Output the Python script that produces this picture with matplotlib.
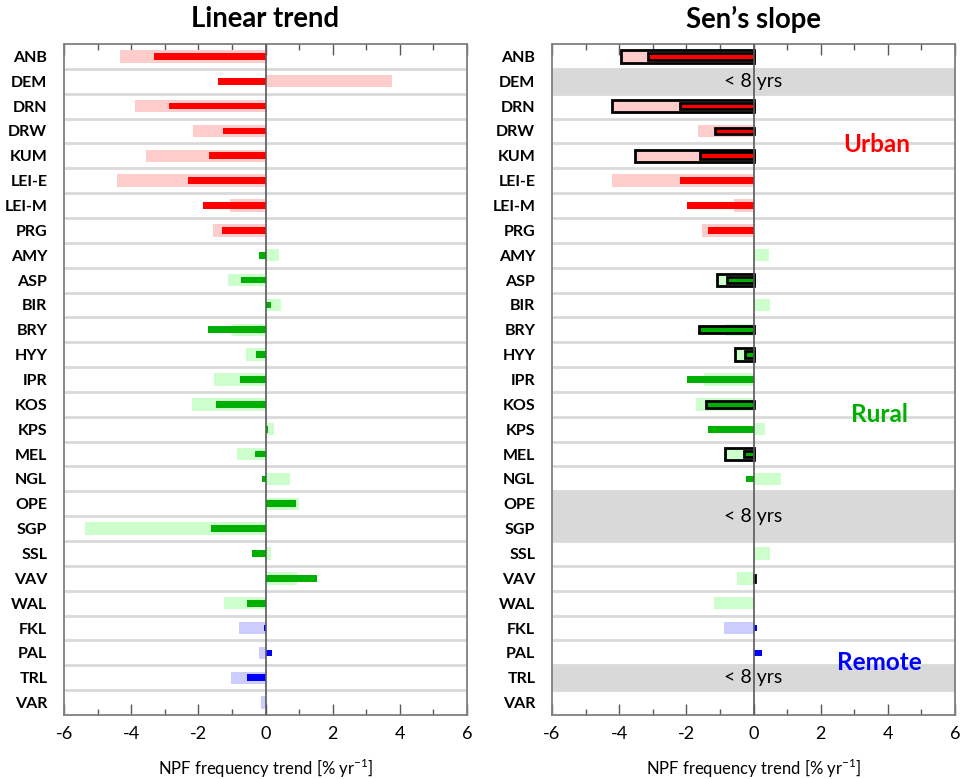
import numpy as np
import matplotlib.pyplot as plt
from matplotlib.ticker import MultipleLocator

stations = ["ANB", "DEM", "DRN", "DRW", "KUM", "LEI-E", "LEI-M", "PRG",
            "AMY", "ASP", "BIR", "BRY", "HYY", "IPR", "KOS", "KPS", "MEL",
            "NGL", "OPE", "SGP", "SSL", "VAV", "WAL",
            "FKL", "PAL", "TRL", "VAR"]
site_type = ["urban"] * 8 + ["rural"] * 15 + ["remote"] * 4

nan = np.nan

# linear trend, two estimates per station [% yr-1]
linear_a = [-4.34, 3.76, -3.88, -2.17, -3.56, -4.42, -1.05, -1.57,
            0.41, -1.11, 0.46, -0.99, -0.59, -1.52, -2.19, 0.26, -0.84,
            0.74, 1.01, -5.36, 0.15, 0.93, -1.25,
            -0.79, -0.20, -1.04, -0.13]
linear_b = [-3.32, -1.40, -2.87, -1.28, -1.69, -2.31, -1.86, -1.30,
            -0.20, -0.73, 0.15, -1.72, -0.27, -0.75, -1.48, 0.07, -0.30,
            -0.11, 0.91, -1.62, -0.39, 1.54, -0.54,
            -0.04, 0.19, -0.56, nan]

# Sen's slope (nan = record shorter than 8 years or no value)
sen_a = [-3.95, nan, -4.22, -1.65, -3.54, -4.20, -0.58, -1.53,
         0.45, -1.09, 0.48, -0.86, -0.55, -1.46, -1.72, 0.33, -0.85,
         0.81, nan, nan, 0.48, -0.49, -1.19,
         -0.87, nan, nan, nan]
sen_b = [-3.13, nan, -2.19, -1.14, -1.60, -2.19, -1.97, -1.35,
         nan, -0.78, nan, -1.63, -0.24, -1.97, -1.41, -1.36, -0.29,
         -0.23, nan, nan, nan, 0.05, nan,
         0.09, 0.24, nan, nan]
sen_sig_a = [1, 0, 1, 0, 1, 0, 0, 0,
             0, 1, 0, 0, 1, 0, 0, 0, 1,
             0, 0, 0, 0, 0, 0,
             0, 0, 0, 0]
sen_sig_b = [1, 0, 1, 1, 1, 0, 0, 0,
             0, 1, 0, 1, 1, 0, 1, 0, 1,
             0, 0, 0, 0, 1, 0,
             0, 0, 0, 0]
short_rows = ["DEM", "OPE", "SGP", "TRL"]

light = {"urban": "#ffcccc", "rural": "#ccffcc", "remote": "#ccccff"}
dark = {"urban": "#ff0000", "rural": "#00b000", "remote": "#0000ff"}

plt.rcParams["font.family"] = ["Lato", "DejaVu Sans"]
plt.rcParams["mathtext.fontset"] = "custom"
plt.rcParams["mathtext.rm"] = "Lato"
plt.rcParams["axes.unicode_minus"] = False

fig = plt.figure(figsize=(9.66, 7.79), dpi=100)
ax1 = fig.add_axes([64 / 966, 1 - 715 / 779, 403 / 966, 671 / 779])
ax2 = fig.add_axes([552 / 966, 1 - 715 / 779, 403 / 966, 671 / 779])

y = np.arange(len(stations))


def draw_bars(ax, vals, height, palette, sig=None):
    for i, v in enumerate(vals):
        if np.isnan(v):
            continue
        outlined = sig is not None and sig[i]
        ax.barh(y[i], v, height=height, color=palette[site_type[i]],
                edgecolor="black" if outlined else "none",
                linewidth=2.0 if outlined else 0, zorder=3)


def style_axes(ax):
    ax.set_xlim(-6, 6)
    ax.set_ylim(len(stations) - 0.5, -0.5)
    for b in np.arange(0.5, len(stations) - 1, 1):
        ax.axhline(b, color="#d9d9d9", lw=2, zorder=1)
    ax.axvline(0, color="#595959", lw=1.2, zorder=4)
    ax.xaxis.set_major_locator(MultipleLocator(2))
    ax.xaxis.set_minor_locator(MultipleLocator(1))
    ax.tick_params(axis="x", which="both", direction="in", top=True,
                   colors="#595959", labelcolor="black", labelsize=13, pad=8)
    ax.tick_params(axis="x", which="major", length=8, width=1)
    ax.tick_params(axis="x", which="minor", length=4, width=1)
    ax.set_yticks(y)
    ax.set_yticklabels(stations, fontsize=11.5, fontweight="bold")
    ax.tick_params(axis="y", length=0, pad=12)
    for sp in ax.spines.values():
        sp.set_color("#7f7f7f")
        sp.set_linewidth(1.3)
    ax.set_xlabel(r"NPF frequency trend [% yr$^{-1}$]", fontsize=12)
    ax.xaxis.set_label_coords(0.5, -(757 - 715) / 671)


# left panel: linear trend
style_axes(ax1)
draw_bars(ax1, linear_a, 0.5, light)
draw_bars(ax1, linear_b, 0.27, dark)

# right panel: Sen's slope
style_axes(ax2)
for name in short_rows:
    i = stations.index(name)
    ax2.axhspan(i - 0.5, i + 0.5, color="#d9d9d9", lw=0, zorder=2)
for yc in [stations.index("DEM"), 18.5, stations.index("TRL")]:
    ax2.text(0, yc, "< 8 yrs", ha="center", va="center", fontsize=14,
             zorder=5)
draw_bars(ax2, sen_a, 0.5, light, sen_sig_a)
draw_bars(ax2, sen_b, 0.27, dark, sen_sig_b)

ax2.text(3.66, 3.55, "Urban", color=dark["urban"], fontsize=17.5,
         fontweight="bold", ha="center", va="center", zorder=5)
ax2.text(3.75, 14.4, "Rural", color=dark["rural"], fontsize=17.5,
         fontweight="bold", ha="center", va="center", zorder=5)
ax2.text(3.75, 24.4, "Remote", color=dark["remote"], fontsize=17.5,
         fontweight="bold", ha="center", va="center", zorder=5)

fig.text(265 / 966, 1 - 19 / 779, "Linear trend", ha="center", va="center",
         fontsize=19.8, fontweight="bold")
fig.text(754 / 966, 1 - 19 / 779, "Sen\u2019s slope", ha="center",
         va="center", fontsize=19.8, fontweight="bold")

fig.savefig("out.png", dpi=100)
